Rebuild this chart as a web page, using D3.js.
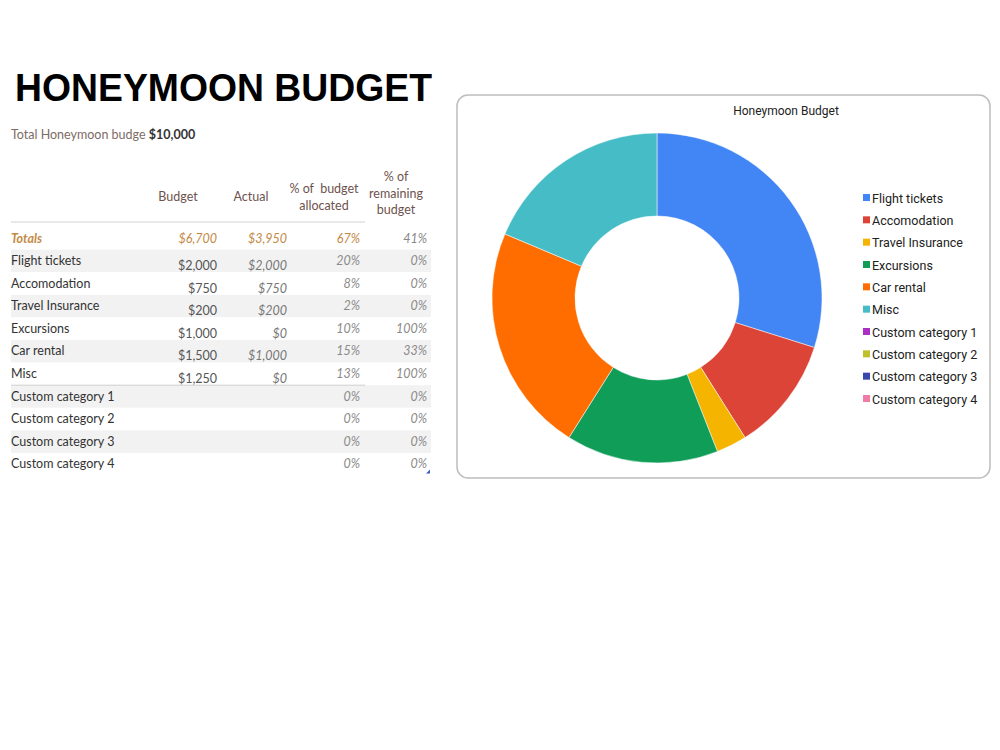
<!DOCTYPE html>
<html>
<head>
<meta charset="utf-8">
<script src="https://cdn.jsdelivr.net/npm/d3@7"></script>
<style>
  body { margin: 0; background: #fff; }
  svg { display: block; }
</style>
</head>
<body>
<div id="sheet"></div>
<script>
// table data
var categories = ["Flight tickets", "Accomodation", "Travel Insurance", "Excursions", "Car rental", "Misc",
                  "Custom category 1", "Custom category 2", "Custom category 3", "Custom category 4"];
var budget = [2000, 750, 200, 1000, 1500, 1250, null, null, null, null];
var actual = [2000, 750, 200, 0, 1000, 0, null, null, null, null];
var pctAllocated = [20, 8, 2, 10, 15, 13, 0, 0, 0, 0];
var pctRemaining = [0, 0, 0, 100, 33, 100, 0, 0, 0, 0];
var totals = {budget: 6700, actual: 3950, allocated: 67, remaining: 41};
var totalBudget = 10000;
var sliceColors = ["#4285f4", "#db4437", "#f4b400", "#0f9d58", "#ff6d01", "#46bdc6",
                   "#ab30c4", "#bfc12c", "#3949ab", "#f07ba7"];

var width = 1000, height = 750;

var svg = d3.select("#sheet")
  .append("svg")
  .attr("width", width)
  .attr("height", height);

var money = d3.format("$,");

// ---- left side: the sheet ----
svg.append("text")
  .attr("x", 15)
  .attr("y", 101)
  .attr("textLength", 417)
  .attr("lengthAdjust", "spacingAndGlyphs")
  .style("font-family", "'Liberation Sans', Arial, sans-serif")
  .style("font-weight", "bold")
  .style("font-size", "38.5px")
  .style("fill", "#000")
  .text("HONEYMOON BUDGET");

var sub = svg.append("text")
  .attr("x", 11)
  .attr("y", 139)
  .style("font-family", "Lato, sans-serif")
  .style("font-size", "12.5px");
sub.append("tspan").style("fill", "#7d6b65").text("Total Honeymoon budge ");
sub.append("tspan").style("fill", "#333").style("font-weight", "bold").text(money(totalBudget));

// rows
var rowKeys = ["Totals"].concat(categories);
var y = d3.scaleBand()
  .domain(rowKeys)
  .range([227, 227 + rowKeys.length * 22.6]);

// right edges of the value columns
var colX = d3.scaleOrdinal()
  .domain(["budget", "actual", "allocated", "remaining"])
  .range([217, 287, 360, 427]);

// header
var hdrColor = "#6e524d";
var headers = [
  {key: "budget", center: 178, lines: ["Budget"], top: 201},
  {key: "actual", center: 251, lines: ["Actual"], top: 201},
  {key: "allocated", center: 324, lines: ["% of  budget", "allocated"], top: 193},
  {key: "remaining", center: 396, lines: ["% of", "remaining", "budget"], top: 181}
];
headers.forEach(function(h) {
  var t = svg.append("text")
    .attr("text-anchor", "middle")
    .style("font-family", "Lato, sans-serif")
    .style("font-size", "12.5px")
    .style("fill", hdrColor);
  h.lines.forEach(function(l, i) {
    t.append("tspan")
      .attr("x", h.center)
      .attr("y", h.top + i * 16.5)
      .style("white-space", "pre")
      .text(l);
  });
});
svg.append("line")
  .attr("x1", 11).attr("x2", 365)
  .attr("y1", 222).attr("y2", 222)
  .style("stroke", "#e2e2e2").style("stroke-width", 1.5);

// zebra bands
svg.selectAll(".band")
  .data(categories)
  .enter()
  .append("rect")
    .attr("class", "band")
    .attr("x", 11)
    .attr("y", function(d) { return y(d); })
    .attr("width", 420)
    .attr("height", y.bandwidth())
    .style("fill", function(d, i) { return i % 2 === 0 ? "#f2f2f2" : "#fff"; });

// line under Misc
svg.append("line")
  .attr("x1", 11).attr("x2", 365)
  .attr("y1", y("Misc") + y.bandwidth()).attr("y2", y("Misc") + y.bandwidth())
  .style("stroke", "#cfcfcf").style("stroke-width", 1);

// totals row
var gold = "#c38a45";
var totalsRow = svg.append("g").style("font-family", "Lato, sans-serif").style("font-size", "12.5px").style("font-style", "italic");
var ty = y("Totals") + y.bandwidth() / 2 + 4.5;
totalsRow.append("text").attr("x", 11).attr("y", ty).style("fill", gold).style("font-weight", "bold").text("Totals");
totalsRow.append("text").attr("x", colX("budget")).attr("y", ty).attr("text-anchor", "end").style("fill", gold).text(money(totals.budget));
totalsRow.append("text").attr("x", colX("actual")).attr("y", ty).attr("text-anchor", "end").style("fill", gold).text(money(totals.actual));
totalsRow.append("text").attr("x", colX("allocated")).attr("y", ty).attr("text-anchor", "end").style("fill", gold).text(totals.allocated + "%");
totalsRow.append("text").attr("x", colX("remaining")).attr("y", ty).attr("text-anchor", "end").style("fill", "#888").text(totals.remaining + "%");

// category rows
var rows = svg.selectAll(".row")
  .data(categories)
  .enter()
  .append("g")
    .attr("class", "row")
    .attr("transform", function(d) { return "translate(0," + (y(d) + y.bandwidth() / 2) + ")"; })
    .style("font-family", "Lato, sans-serif")
    .style("font-size", "12.5px");

rows.append("text")
  .attr("x", 11).attr("y", 4)
  .style("fill", "#333")
  .text(function(d) { return d; });

rows.append("text")
  .attr("x", colX("budget")).attr("y", 9)
  .attr("text-anchor", "end")
  .style("fill", "#555")
  .text(function(d, i) { return budget[i] == null ? "" : money(budget[i]); });

rows.append("text")
  .attr("x", colX("actual")).attr("y", 9)
  .attr("text-anchor", "end")
  .style("fill", "#777")
  .style("font-style", "italic")
  .text(function(d, i) { return actual[i] == null ? "" : money(actual[i]); });

rows.append("text")
  .attr("x", colX("allocated")).attr("y", 4)
  .attr("text-anchor", "end")
  .style("fill", "#8a8a8a")
  .style("font-style", "italic")
  .text(function(d, i) { return pctAllocated[i] + "%"; });

rows.append("text")
  .attr("x", colX("remaining")).attr("y", 4)
  .attr("text-anchor", "end")
  .style("fill", "#8a8a8a")
  .style("font-style", "italic")
  .text(function(d, i) { return pctRemaining[i] + "%"; });

// fill handle
var lastY = y(categories[categories.length - 1]) + y.bandwidth();
svg.append("path")
  .attr("d", "M" + 430 + "," + (lastY - 6) + "L" + 430 + "," + (lastY - 2) + "L" + 426 + "," + (lastY - 2) + "Z")
  .style("fill", "#3b5fc0");

// ---- right side: the chart ----
svg.append("rect")
  .attr("x", 457).attr("y", 95)
  .attr("width", 533).attr("height", 383)
  .attr("rx", 11).attr("ry", 11)
  .style("fill", "#fff")
  .style("stroke", "#bdbdbd")
  .style("stroke-width", 1.5);

svg.append("text")
  .attr("x", 786).attr("y", 115)
  .attr("text-anchor", "middle")
  .style("font-family", "Roboto, sans-serif")
  .style("font-size", "12px")
  .style("fill", "#222")
  .text("Honeymoon Budget");

var pieData = categories.map(function(c, i) { return {name: c, value: budget[i] || 0, color: sliceColors[i]}; });

var pie = d3.pie()
  .sort(null)
  .value(function(d) { return d.value; });

var arc = d3.arc()
  .innerRadius(82)
  .outerRadius(165);

var donut = svg.append("g")
  .attr("transform", "translate(657,298)");

donut.selectAll("path")
  .data(pie(pieData).filter(function(d) { return d.data.value > 0; }))
  .enter()
  .append("path")
    .attr("d", arc)
    .style("fill", function(d) { return d.data.color; })
    .style("stroke", "#fff")
    .style("stroke-width", 0.5);

// legend
var ly = d3.scalePoint()
  .domain(categories)
  .range([198, 399]);

var legend = svg.selectAll(".legend")
  .data(pieData)
  .enter()
  .append("g")
    .attr("class", "legend")
    .attr("transform", function(d) { return "translate(863," + ly(d.name) + ")"; });

legend.append("rect")
  .attr("x", 0).attr("y", -4)
  .attr("width", 7).attr("height", 7)
  .style("fill", function(d) { return d.color; });

legend.append("text")
  .attr("x", 9).attr("y", 4.5)
  .style("font-family", "Roboto, sans-serif")
  .style("font-size", "12.5px")
  .style("fill", "#222")
  .text(function(d) { return d.name; });
</script>
</body>
</html>
